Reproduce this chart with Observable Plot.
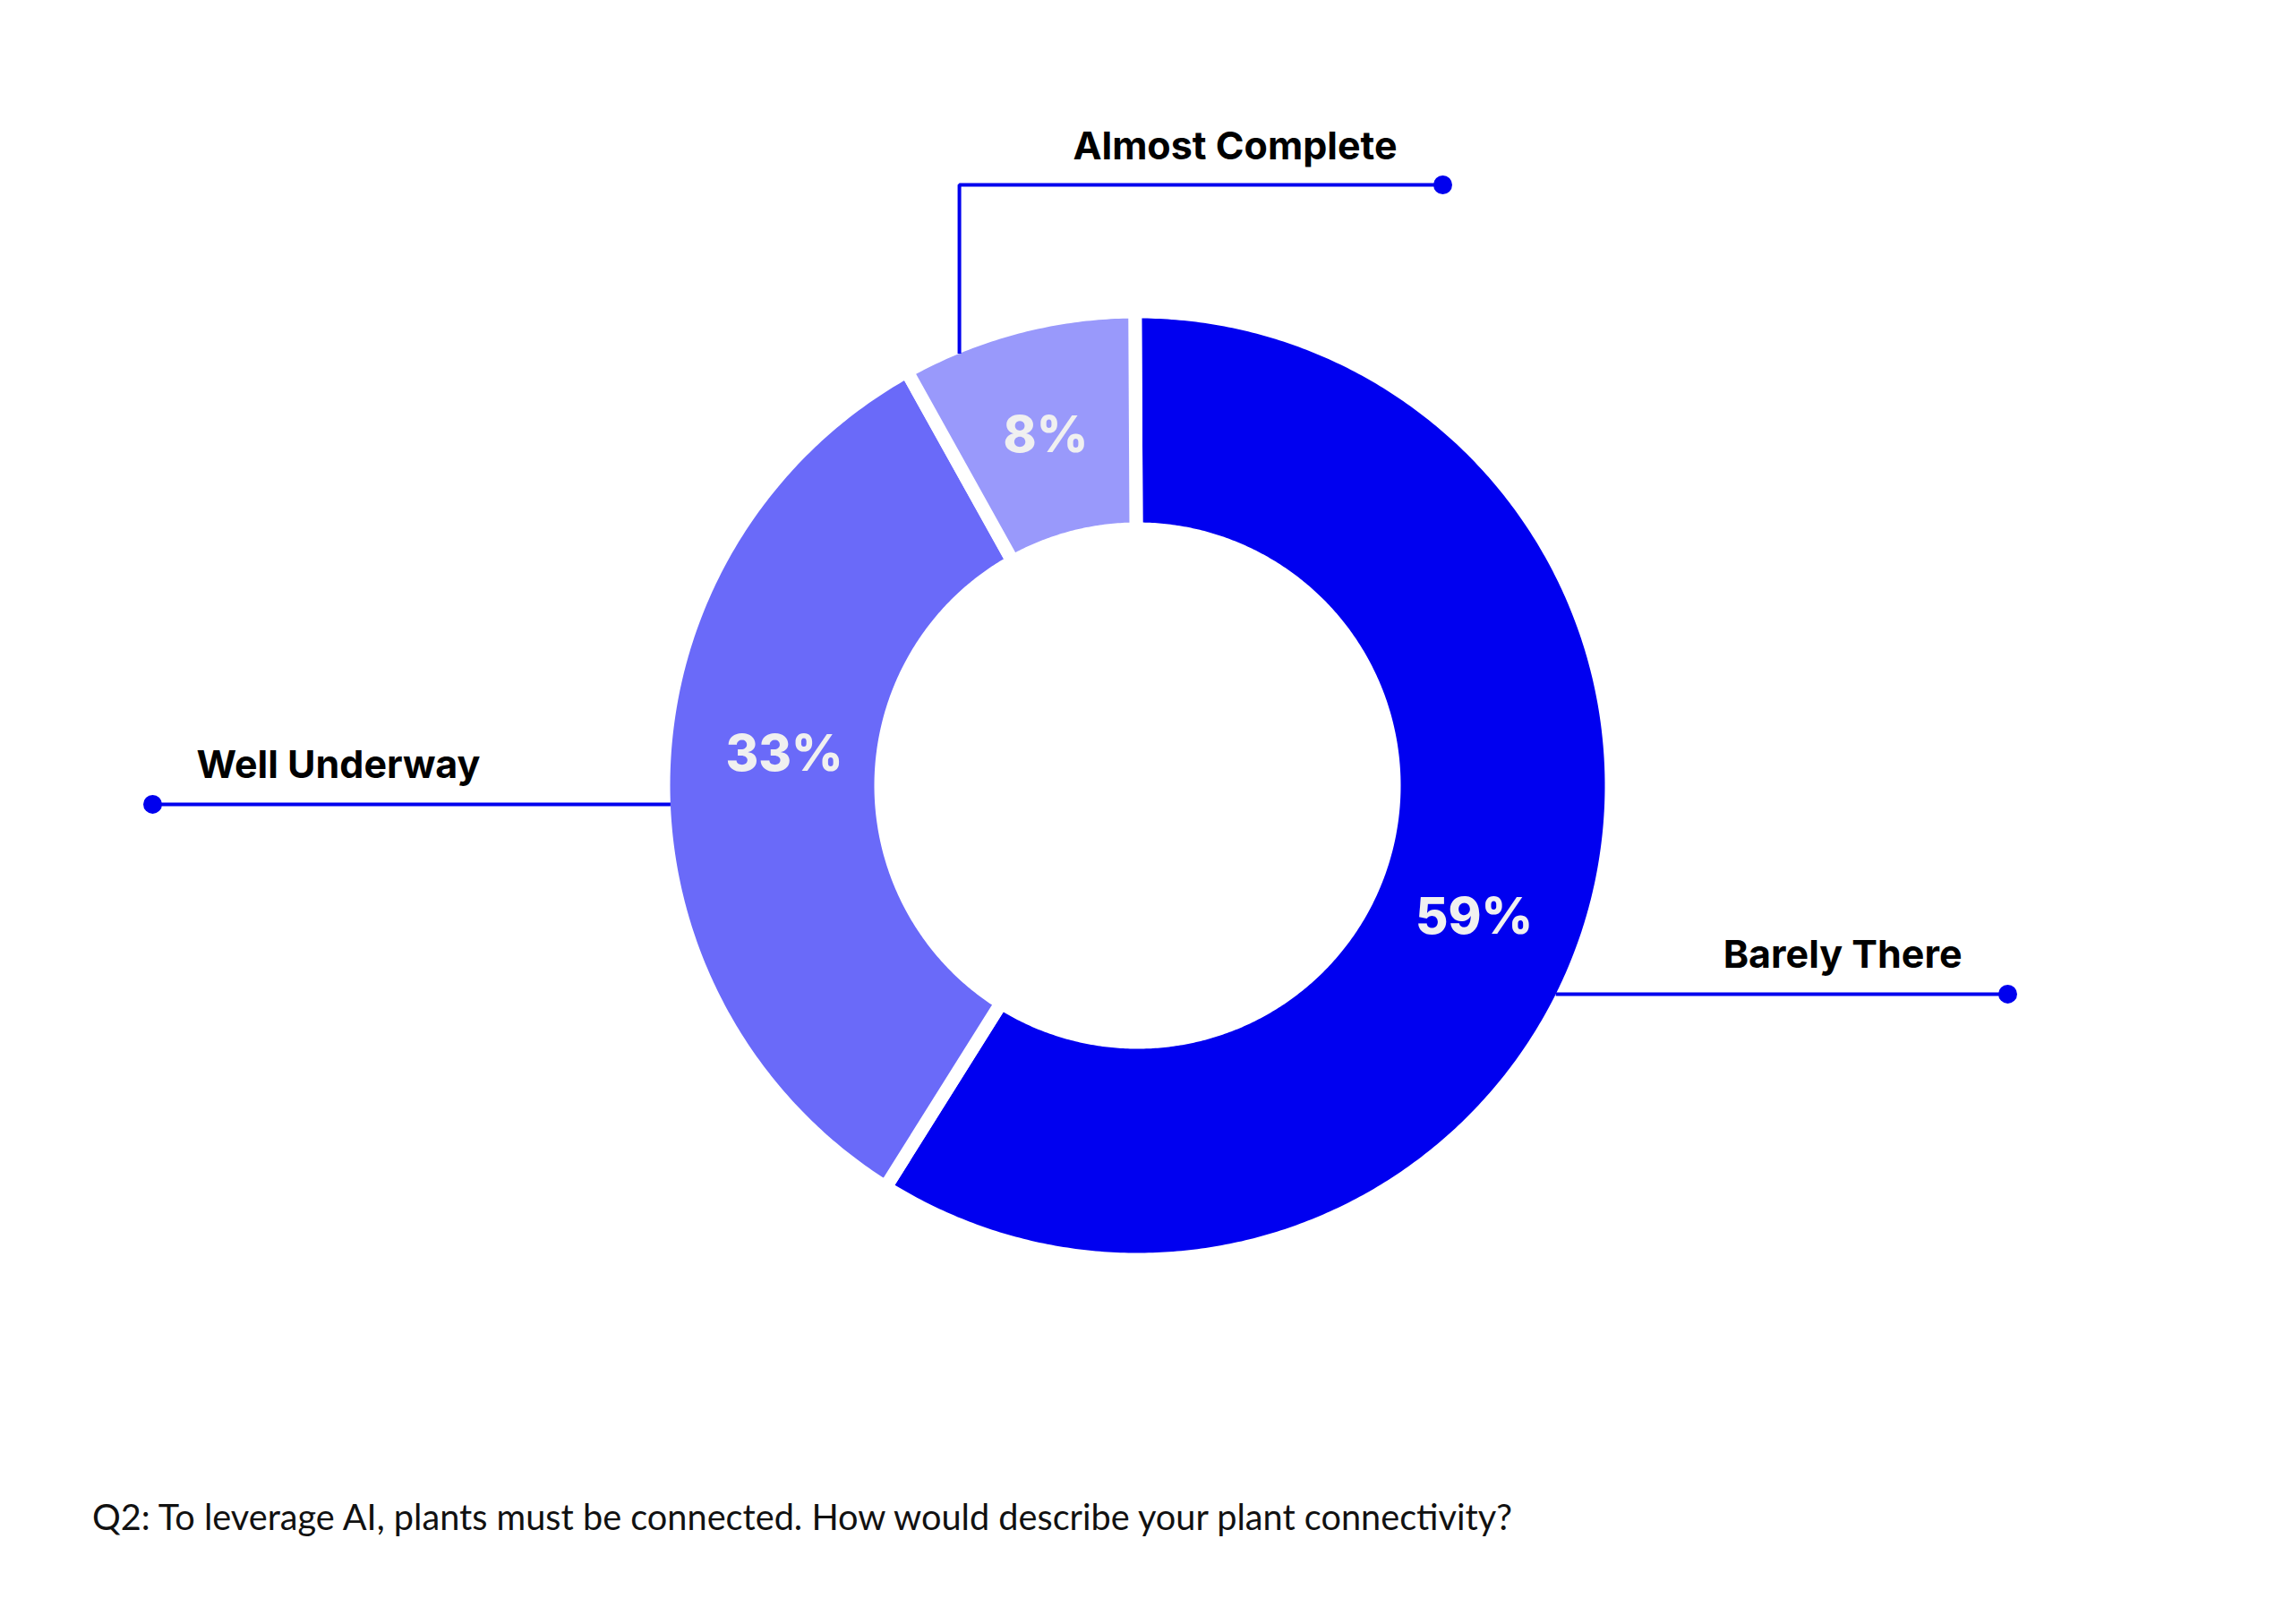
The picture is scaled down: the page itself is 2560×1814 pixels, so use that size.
<!DOCTYPE html>
<html>
<head>
<meta charset="utf-8">
<script src="https://cdn.jsdelivr.net/npm/d3@7"></script>
<script src="https://cdn.jsdelivr.net/npm/@observablehq/plot@0.6"></script>
<style>
  html, body { margin: 0; padding: 0; background: #ffffff; }
  #chart svg { display: block; }
  #caption {
    font-family: Lato, "Noto Sans", sans-serif;
    font-size: 39.7px;
    line-height: 46px;
    color: #111111;
    margin: 71px 0 0 103px;
    white-space: nowrap;
  }
</style>
</head>
<body>
<div id="chart"></div>
<div id="caption"></div>
<script>
// ---------------- data ----------------
const categories = ["Barely There", "Well Underway", "Almost Complete"];
const shares = [59, 33, 8];
const captionText = "Q2: To leverage AI, plants must be connected. How would describe your plant connectivity?";

// ---------------- styles & layout ----------------
const sliceColors = ["#0000f0", "#6a6af9", "#9999fb"];
const accent = "#0000ee";
const W = 2560, H = 1600;          // svg size
const cx = 1270, cy = 877;         // donut centre (px)
const R = 522, rInner = 294;       // visible outer / inner radius (px)
const gap = 15;                    // white gap between slices (px)
const startDeg = -0.3;             // start angle, clockwise from 12 o'clock
const labelShiftDeg = [5.5, 3.5, 0];  // nudge of the % labels along the ring
const labelRadiusShift = [0, -8, 0];  // nudge of the % labels across the ring
// leader lines: anchor angle on the outer edge, end point of the line
const leaders = [
  {category: "Barely There",    angle: 116.5, endX: 2242 - cx, anchor: "end"},
  {category: "Well Underway",   angle: 267.7, endX: 170 - cx,  anchor: "start"},
  {category: "Almost Complete", angle: 337.6, endX: 1611 - cx, elbowY: cy - 206, anchor: "end"}
];

// ---------------- build geometry from the data ----------------
const rows = categories.map((c, i) => ({category: c, share: shares[i]}));
const rad = d => d * Math.PI / 180;
const pie = d3.pie().sort(null).value(d => d.share)
  .startAngle(rad(startDeg)).endAngle(rad(startDeg) + 2 * Math.PI);
const arcs = pie(rows);

// slice polygons (drawn with a white stroke = the gap)
const ro = R + gap / 2, ri = rInner - gap / 2;
const slicePts = [];
for (const a of arcs) {
  const n = Math.max(2, Math.ceil((a.endAngle - a.startAngle) / (Math.PI / 360)));
  for (let i = 0; i <= n; i++) {
    const t = a.startAngle + (a.endAngle - a.startAngle) * i / n;
    slicePts.push({category: a.data.category, x: ro * Math.sin(t), y: ro * Math.cos(t)});
  }
  for (let i = n; i >= 0; i--) {
    const t = a.startAngle + (a.endAngle - a.startAngle) * i / n;
    slicePts.push({category: a.data.category, x: ri * Math.sin(t), y: ri * Math.cos(t)});
  }
}

// percentage labels at the middle of each slice
const rLabel = (R + rInner) / 2 - 4;
const pctLabels = arcs.map((a, i) => {
  const t = (a.startAngle + a.endAngle) / 2 + rad(labelShiftDeg[i]);
  const r = rLabel + labelRadiusShift[i];
  return {text: `${a.data.share}%`, x: r * Math.sin(t), y: r * Math.cos(t)};
});

// leader lines
const leaderPts = [];
const leaderEnds = [];
for (const l of leaders) {
  const a = rad(l.angle);
  const sx = R * Math.sin(a), sy = R * Math.cos(a);
  leaderPts.push({category: l.category, x: sx, y: sy});
  let ey = sy;
  if (l.elbowY !== undefined) {
    ey = l.elbowY;
    leaderPts.push({category: l.category, x: sx, y: ey});
  }
  leaderPts.push({category: l.category, x: l.endX, y: ey});
  leaderEnds.push({category: l.category, x: l.endX, y: ey, anchor: l.anchor});
}

const textFont = "Inter, 'Open Sans', sans-serif";

const chart = Plot.plot({
  width: W,
  height: H,
  margin: 0,
  style: {background: "#ffffff"},
  x: {domain: [-cx, W - cx], range: [0, W], axis: null},
  y: {domain: [cy, cy - H], range: [0, H], axis: null},
  color: {domain: categories, range: sliceColors},
  marks: [
    Plot.line(slicePts, {
      x: "x", y: "y", z: "category", fill: "category",
      stroke: "#ffffff", strokeWidth: gap,
      strokeLinejoin: "miter", strokeMiterlimit: 10,
      curve: "linear-closed"
    }),
    Plot.line(leaderPts, {
      x: "x", y: "y", z: "category",
      stroke: accent, strokeWidth: 4,
      strokeLinecap: "butt", strokeLinejoin: "miter"
    }),
    Plot.dot(leaderEnds, {x: "x", y: "y", r: 10.5, fill: accent, stroke: null}),
    Plot.text(leaderEnds.filter(d => d.anchor === "end"), {
      x: "x", y: "y", text: "category",
      textAnchor: "end", lineAnchor: "bottom", dx: -51, dy: -29,
      fontSize: 43, fontWeight: 700, fontFamily: textFont, fill: "#000000"
    }),
    Plot.text(leaderEnds.filter(d => d.anchor === "start"), {
      x: "x", y: "y", text: "category",
      textAnchor: "start", lineAnchor: "bottom", dx: 49, dy: -29,
      fontSize: 43, fontWeight: 700, fontFamily: textFont, fill: "#000000"
    }),
    Plot.text(pctLabels, {
      x: "x", y: "y", text: "text",
      fontSize: 56, fontWeight: 800, fontFamily: textFont, fill: "#f0f0f0"
    })
  ]
});

document.getElementById("chart").appendChild(chart);
document.getElementById("caption").textContent = captionText;
</script>
</body>
</html>
